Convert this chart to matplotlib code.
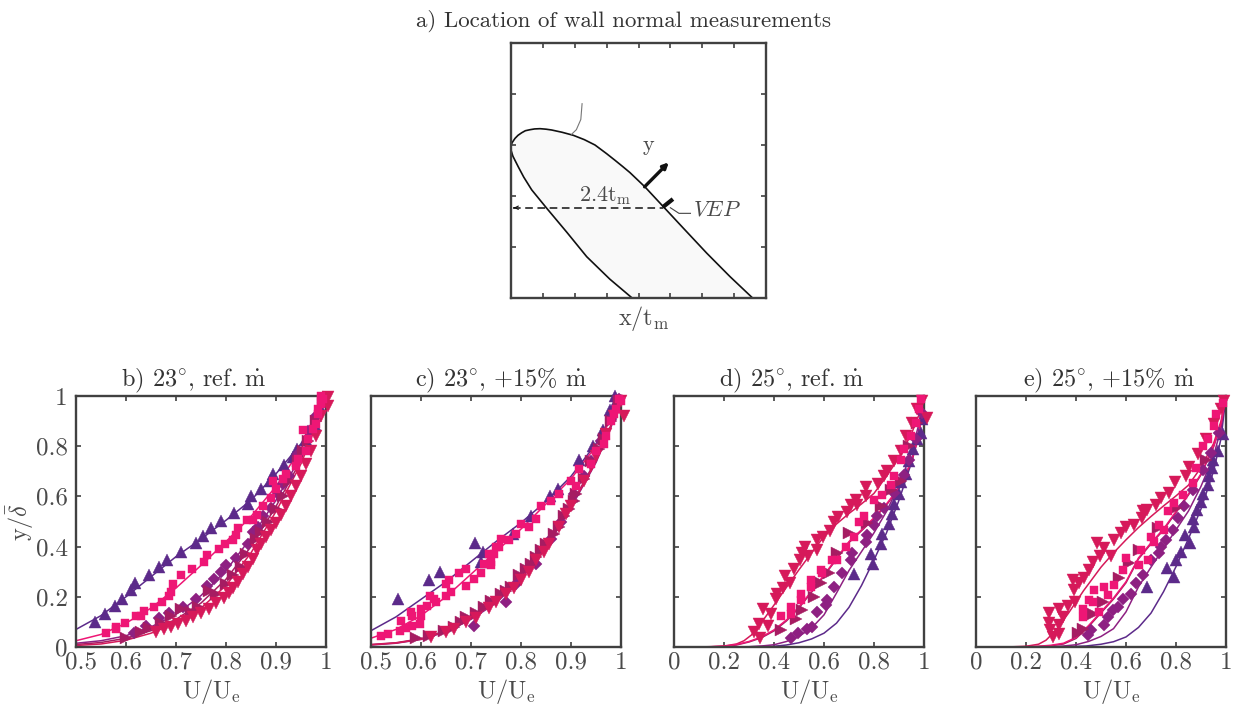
import matplotlib
matplotlib.use("Agg")
import matplotlib.pyplot as plt
from matplotlib.transforms import ScaledTranslation

plt.rcParams["font.family"] = "serif"
plt.rcParams["font.serif"] = ["cmr10", "DejaVu Serif"]
plt.rcParams["mathtext.fontset"] = "cm"
plt.rcParams["axes.unicode_minus"] = False

W, H = 1239, 706
TXT = "#4a4a4a"
AX_C = "#404040"

COLORS = {"up": "#5c2a8a", "dia": "#8e2082", "right": "#a61c62", "down": "#d6195a", "sq": "#ee1675"}
MARKERS = {"up": "^", "dia": "D", "right": ">", "down": "v", "sq": "s"}
SIZES = {"up": 8.8, "dia": 6.0, "right": 8.8, "down": 8.8, "sq": 6.4}
ORDER = ["up", "dia", "right", "down", "sq"]

# panel a: geometry (x/8 div, y/5 div)
upper_x = [0.0, 0.05, 0.126, 0.22, 0.335, 0.45, 0.596, 0.74, 0.91, 1.1, 1.277, 1.6, 1.955, 2.3, 2.635, 3.0, 3.263, 3.5, 3.73, 4.2, 4.78, 5.41, 6.14, 6.87, 7.58]
upper_y = [3.0, 3.06, 3.13, 3.19, 3.24, 3.28, 3.30, 3.315, 3.32, 3.31, 3.294, 3.25, 3.19, 3.105, 3.0, 2.83, 2.70, 2.58, 2.46, 2.18, 1.79, 1.367, 0.88, 0.42, 0.0]
lower_x = [0.0, 0.06, 0.23, 0.4, 0.65, 1.12, 1.75, 2.375, 3.1, 3.8]
lower_y = [2.9, 2.78, 2.57, 2.37, 2.12, 1.76, 1.29, 0.81, 0.37, 0.0]
lead_x = [2.23, 2.19, 2.05, 1.90]
lead_y = [3.81, 3.50, 3.30, 3.21]
vep_lead_x = [5.00, 5.27, 5.63]
vep_lead_y = [1.77, 1.66, 1.66]
dash_x = [0.05, 4.76]
dash_y = [1.77, 1.77]
y_arrow = [4.19, 2.18, 4.95, 2.66]
vep_tick_x = [4.76, 5.08]
vep_tick_y = [1.78, 1.94]

# panel b
b_lines = {
    "up": ([.5, .55, .6, .65, .7, .75, .8, .85, .9, .95, .98, 1], [.07, .125, .2, .28, .36, .43, .505, .585, .69, .81, .92, 1]),
    "sq": ([.5, .55, .6, .65, .7, .75, .8, .85, .9, .95, .98, 1], [.025, .05, .095, .155, .235, .325, .42, .52, .64, .79, .91, 1]),
    "dia": ([.5, .55, .6, .65, .7, .75, .8, .85, .9, .95, .98, 1], [.015, .025, .045, .08, .13, .205, .305, .435, .585, .76, .9, 1]),
    "right": ([.5, .55, .6, .65, .7, .75, .8, .85, .9, .95, .98, 1], [.01, .018, .035, .065, .11, .175, .27, .4, .56, .745, .89, 1]),
    "down": ([.5, .55, .6, .65, .7, .75, .8, .85, .9, .95, .98, 1], [.006, .012, .027, .055, .095, .155, .245, .375, .54, .73, .88, 1]),
}
b_u = {
    "up": [.537, .557, .578, .591, .61, .617, .645, .665, .681, .71, .741, .753, .77, .79, .816, .845, .85, .87, .888, .895, .917, .933, .943, .96, .978, .989, .995],
    "sq": [.56, .58, .58, .597, .62, .635, .63, .655, .672, .685, .69, .695, .71, .732, .755, .762, .785, .797, .815, .82, .825, .843, .855, .862, .875, .89, .9, .895, .915, .92, .94, .945, .96, .955, .975, .965, .985, .98, .99, .985, .995, .99],
    "dia": [.615, .64, .665, .685, .715, .74, .762, .775, .79, .8, .82, .845, .855, .865, .875, .89, .905, .915, .925, .945, .965, .98, .995],
    "right": [.6, .63, .645, .67, .69, .71, .73, .745, .765, .78, .8, .815, .83, .84, .86, .87, .885, .9, .915, .925, .945, .955, .965, .98, .995],
    "down": [.66, .675, .69, .705, .72, .735, .75, .765, .78, .795, .805, .815, .825, .835, .845, .855, .862, .87, .88, .89, .9, .91, .92, .93, .94, .95, .96, .97, .98, .99, 1.005, 1.005],
}
b_y = {
    "up": [.10, .133, .162, .193, .226, .255, .286, .32, .348, .38, .415, .443, .475, .503, .535, .569, .6, .63, .66, .69, .725, .758, .787, .824, .884, .957, .995],
    "sq": [.055, .08, .07, .095, .125, .145, .125, .16, .18, .205, .22, .25, .285, .31, .34, .365, .39, .41, .425, .445, .475, .505, .505, .525, .56, .595, .63, .66, .67, .69, .72, .75, .78, .865, .87, .83, .93, .89, .97, .95, .99, 1.0],
    "dia": [.055, .085, .115, .135, .16, .19, .245, .27, .30, .325, .355, .41, .46, .48, .52, .555, .61, .65, .68, .77, .86, .92, .99],
    "right": [.035, .06, .075, .095, .125, .15, .14, .16, .225, .21, .25, .285, .32, .37, .43, .46, .5, .55, .6, .66, .74, .78, .82, .9, .98],
    "down": [.06, .07, .08, .09, .105, .12, .135, .15, .175, .195, .215, .235, .26, .29, .32, .35, .385, .41, .44, .465, .495, .525, .56, .6, .64, .68, .73, .78, .84, .92, .96, .995],
}

# panel c
c_lines = {
    "up": ([.5, .55, .6, .65, .7, .75, .8, .85, .9, .95, .98, 1], [.065, .12, .19, .26, .34, .42, .495, .58, .68, .81, .91, 1]),
    "sq": ([.5, .55, .6, .65, .7, .75, .8, .85, .9, .95, .98, 1], [.035, .07, .125, .2, .29, .38, .47, .57, .67, .8, .91, 1]),
    "dia": ([.5, .55, .6, .65, .7, .75, .8, .85, .9, .95, .98, 1], [.008, .015, .03, .06, .11, .175, .27, .395, .555, .735, .875, 1]),
    "right": ([.5, .55, .6, .65, .7, .75, .8, .85, .9, .95, .98, 1], [.01, .017, .033, .065, .115, .185, .28, .405, .565, .745, .885, 1]),
    "down": ([.5, .55, .6, .65, .7, .75, .8, .85, .9, .95, .98, 1], [.009, .016, .031, .063, .113, .18, .275, .4, .56, .74, .88, 1]),
}
c_u = {
    "up": [.554, .615, .638, .708, .724, .72, .784, .82, .858, .874, .915, .944, .964, .977, .985, .987],
    "sq": [.52, .533, .557, .57, .582, .598, .56, .58, .582, .6, .6, .612, .63, .625, .618, .65, .66, .65, .655, .675, .69, .69, .705, .72, .725, .74, .74, .745, .735, .75, .755, .76, .775, .79, .8, .815, .83, .84, .86, .875, .9, .91, .915, .94, .95, .965, .97, .98, .985, .99, .995, 1.0],
    "dia": [.705, .77, .79, .83, .86, .88, .905, .925, .94, .96, .98, .995],
    "right": [.59, .615, .645, .665, .68, .69, .71, .725, .74, .76, .77, .78, .795, .81, .82, .83, .84, .85, .865, .875, .885, .895, .905, .91, .925, .94, .955, .965, .98, .995],
    "down": [.62, .65, .665, .69, .71, .735, .75, .77, .785, .8, .815, .83, .845, .855, .875, .89, .9, .925, .94, .95, .97, .985, 1.0, 1.005],
}
c_y = {
    "up": [.19, .266, .30, .415, .38, .34, .45, .52, .6, .63, .745, .8, .865, .944, .96, 1.0],
    "sq": [.045, .05, .065, .075, .085, .09, .105, .14, .125, .125, .15, .165, .18, .19, .205, .205, .22, .25, .265, .295, .31, .245, .27, .295, .33, .325, .34, .37, .37, .4, .4, .43, .425, .45, .49, .48, .51, .56, .58, .61, .66, .64, .71, .73, .78, .81, .84, .9, .93, .95, .99, .98],
    "dia": [.085, .18, .25, .33, .43, .50, .61, .68, .74, .82, .91, .99],
    "right": [.035, .045, .065, .08, .10, .12, .135, .16, .185, .21, .225, .24, .285, .31, .33, .36, .385, .41, .45, .48, .52, .55, .58, .61, .67, .74, .79, .83, .9, .98],
    "down": [.04, .06, .07, .10, .115, .155, .18, .21, .235, .265, .30, .345, .38, .41, .48, .53, .56, .66, .72, .76, .85, .92, .98, .92],
}

# panel d
d_lines = {
    "up": ([.1, .3, .4, .45, .5, .55, .6, .65, .7, .75, .8, .85, .9, .95, .98, 1], [0, .001, .003, .008, .017, .032, .055, .095, .158, .245, .347, .455, .585, .735, .87, 1]),
    "dia": ([.1, .3, .35, .4, .45, .5, .55, .6, .65, .7, .75, .8, .85, .9, .95, .98, 1], [0, .001, .004, .009, .022, .043, .075, .128, .215, .305, .38, .455, .54, .645, .775, .89, 1]),
    "right": ([.1, .2, .25, .3, .35, .4, .45, .5, .55, .6, .65, .7, .75, .8, .85, .9, .95, .98, 1], [0, .002, .008, .02, .037, .064, .104, .156, .218, .283, .35, .416, .463, .511, .566, .631, .736, .842, 1]),
    "sq": ([.1, .2, .25, .3, .35, .4, .45, .5, .55, .6, .65, .7, .75, .8, .85, .9, .95, .98, 1], [0, .003, .01, .022, .04, .068, .108, .16, .222, .287, .353, .42, .467, .515, .57, .635, .74, .845, 1]),
    "down": ([.1, .15, .2, .25, .28, .31, .35, .4, .45, .5, .55, .6, .65, .7, .75, .8, .85, .9, .95, .98, 1], [0, .001, .004, .012, .025, .048, .098, .167, .238, .308, .375, .44, .49, .532, .57, .612, .68, .755, .85, .925, 1]),
}
d_u = {
    "up": [.72, .797, .789, .829, .833, .86, .873, .88, .9, .909, .927, .94, .957, .973, .987, .993],
    "dia": [.467, .496, .533, .553, .573, .607, .613, .64, .673, .707, .713, .767, .773, .8, .813, .84, .88, .92, .94, .967, .993],
    "right": [.429, .487, .513, .56, .587, .62, .653, .7, .773, .827, .867, .907, .94, .973],
    "down": [.32, .344, .376, .34, .357, .387, .407, .413, .437, .444, .464, .48, .504, .513, .524, .536, .573, .571, .596, .624, .64, .656, .691, .707, .727, .733, .767, .767, .816, .84, .853, .88, .907, .927, .953, .973, .993, 1.013],
    "sq": [.429, .469, .467, .507, .509, .547, .549, .587, .593, .633, .653, .687, .72, .74, .76, .8, .833, .867, .88, .907, .92, .947, .967, .98, .989],
}
d_y = {
    "up": [.291, .331, .371, .409, .451, .489, .531, .571, .609, .656, .691, .74, .787, .827, .853, .907],
    "dia": [.037, .056, .073, .08, .14, .167, .187, .24, .293, .347, .373, .42, .447, .487, .52, .553, .613, .687, .747, .827, .933],
    "right": [.067, .113, .147, .2, .253, .293, .373, .453, .493, .56, .627, .66, .8, .893],
    "down": [.06, .037, .083, .093, .151, .133, .193, .213, .237, .283, .256, .309, .347, .376, .397, .363, .427, .387, .44, .464, .5, .517, .536, .564, .587, .567, .6, .637, .651, .68, .7, .74, .78, .84, .893, .947, .98, .913],
    "sq": [.123, .16, .133, .213, .187, .267, .24, .307, .293, .347, .347, .4, .44, .5, .52, .587, .607, .647, .68, .747, .787, .84, .893, .947, .987],
}

# panel e
e_lines = {
    "up": ([.1, .35, .44, .5, .55, .6, .65, .7, .75, .8, .85, .9, .95, .98, 1], [0, .001, .004, .011, .021, .04, .078, .135, .22, .32, .432, .55, .7, .83, 1]),
    "dia": ([.1, .3, .35, .4, .45, .5, .55, .6, .65, .7, .75, .8, .85, .9, .95, .98, 1], [0, .001, .004, .009, .022, .042, .073, .14, .24, .318, .393, .467, .542, .64, .76, .87, 1]),
    "right": ([.1, .2, .25, .3, .35, .4, .45, .5, .55, .6, .65, .7, .75, .8, .85, .9, .95, .98, 1], [0, .001, .002, .005, .012, .034, .081, .136, .191, .256, .351, .411, .466, .536, .606, .686, .796, .887, 1]),
    "sq": ([.1, .2, .25, .3, .35, .4, .45, .5, .55, .6, .65, .7, .75, .8, .85, .9, .95, .98, 1], [0, .001, .003, .007, .015, .038, .085, .14, .195, .26, .355, .415, .47, .54, .61, .69, .8, .89, 1]),
    "down": ([.1, .15, .2, .25, .28, .32, .37, .43, .5, .55, .6, .65, .7, .75, .8, .85, .9, .95, .98, 1], [0, .001, .003, .011, .027, .067, .135, .224, .318, .375, .427, .476, .52, .562, .602, .645, .715, .81, .9, 1]),
}
e_u = {
    "up": [.683, .793, .763, .8, .82, .856, .837, .873, .867, .883, .9, .909, .927, .931, .944, .949, .967, .989],
    "dia": [.447, .46, .513, .527, .547, .567, .587, .62, .64, .667, .7, .731, .74, .76, .787, .807, .833, .867, .907, .94, .973],
    "right": [.407, .427, .467, .507, .573, .613, .653, .727, .8, .92],
    "down": [.293, .331, .367, .349, .291, .331, .296, .309, .331, .397, .387, .393, .413, .433, .453, .469, .496, .483, .513, .54, .553, .58, .6, .633, .663, .667, .683, .72, .74, .771, .797, .84, .853, .887, .92, .953, .98, .993],
    "sq": [.473, .451, .427, .429, .467, .491, .513, .527, .553, .587, .6, .653, .66, .687, .7, .713, .733, .753, .767, .793, .827, .867, .88, .907, .927, .953, .96, .987],
}
e_y = {
    "up": [.24, .277, .313, .347, .38, .413, .447, .48, .509, .544, .576, .611, .647, .68, .713, .744, .78, .847],
    "dia": [.047, .067, .087, .12, .147, .16, .193, .213, .253, .287, .347, .373, .4, .427, .467, .513, .56, .627, .707, .773, .853],
    "right": [.056, .073, .133, .18, .273, .333, .387, .473, .553, .747],
    "down": [.136, .153, .163, .12, .096, .087, .069, .04, .051, .18, .267, .227, .253, .273, .307, .34, .363, .413, .393, .363, .427, .456, .477, .487, .513, .54, .547, .567, .593, .613, .656, .683, .717, .767, .827, .887, .947, .98],
    "sq": [.227, .187, .153, .12, .18, .14, .24, .207, .247, .307, .353, .327, .387, .347, .44, .42, .487, .467, .54, .573, .607, .653, .713, .8, .827, .88, .927, .973],
}

panels = [
    ("b) 23$^{\\circ}$, ref. $\\dot{\\mathrm{m}}$", 76, 0.47, b_lines, b_u, b_y, [.5, .6, .7, .8, .9, 1], ["0.5", "0.6", "0.7", "0.8", "0.9", "1"]),
    ("c) 23$^{\\circ}$, +15$\\%$ $\\dot{\\mathrm{m}}$", 371, 0.52, c_lines, c_u, c_y, [.5, .6, .7, .8, .9, 1], ["0.5", "0.6", "0.7", "0.8", "0.9", "1"]),
    ("d) 25$^{\\circ}$, ref. $\\dot{\\mathrm{m}}$", 674, 0.47, d_lines, d_u, d_y, [0, .2, .4, .6, .8, 1], ["0", "0.2", "0.4", "0.6", "0.8", "1"]),
    ("e) 25$^{\\circ}$, +15$\\%$ $\\dot{\\mathrm{m}}$", 976, 0.53, e_lines, e_u, e_y, [0, .2, .4, .6, .8, 1], ["0", "0.2", "0.4", "0.6", "0.8", "1"]),
]
y_ticks = [0, .2, .4, .6, .8, 1]
y_labels = ["0", "0.2", "0.4", "0.6", "0.8", "1"]


def add_axes(fig, left, top, w, h):
    return fig.add_axes([left / W, 1 - (top + h) / H, w / W, h / H])


def style_axes(ax):
    ax.tick_params(which="both", direction="in", top=True, right=True, length=3.5, width=1.2,
                   color=AX_C, labelcolor=TXT, labelsize=18, pad=3.5)
    for s in ax.spines.values():
        s.set_linewidth(1.7)
        s.set_edgecolor(AX_C)


def plot_panel(fig, ax, title, title_x, lines, us, ys, ticks, labels):
    for key in ORDER:
        ax.plot(lines[key][0], lines[key][1], color=COLORS[key], lw=1.1, zorder=2)
    for key in ORDER:
        ax.plot(us[key], ys[key], ls="none", marker=MARKERS[key], ms=SIZES[key], mfc=COLORS[key],
                mec=COLORS[key], mew=0.3, clip_on=False, zorder=3)
    ax.set_xlim(ticks[0], ticks[-1])
    ax.set_ylim(0, 1)
    ax.set_xticks(ticks)
    ax.set_xticklabels(labels)
    ax.set_yticks(y_ticks)
    ax.set_yticklabels([])
    style_axes(ax)
    # 0.5 sits a bit right of its tick in the original
    if ticks[0] != 0:
        lab = ax.get_xticklabels()[0]
        lab.set_transform(lab.get_transform() + ScaledTranslation(5 / 100, 0, fig.dpi_scale_trans))
    ax.set_xlabel("U/U$_{\\mathrm{e}}$", fontsize=17.5, color=TXT, labelpad=2, x=0.54)
    ax.set_title(title, fontsize=17.5, color="#333333", pad=7, x=title_x)


def plot_location(ax):
    ax.fill(upper_x + lower_x[::-1], upper_y + lower_y[::-1], color="#f9f9f9", lw=0)
    ax.plot(upper_x, upper_y, color="#111111", lw=1.2)
    ax.plot(lower_x, lower_y, color="#111111", lw=1.2)
    ax.plot(lead_x, lead_y, color="#777777", lw=0.8)
    ax.plot(vep_lead_x, vep_lead_y, color="#444444", lw=0.8)
    ax.plot(dash_x, dash_y, color="#111111", lw=1.1, ls=(0, (5, 3)))
    ax.annotate("", xy=(0.0, 1.77), xytext=(0.2, 1.77),
                arrowprops=dict(arrowstyle="->", color="#111111", lw=0.8, mutation_scale=6))
    ax.annotate("", xy=(y_arrow[2], y_arrow[3]), xytext=(y_arrow[0], y_arrow[1]),
                arrowprops=dict(arrowstyle="-|>", color="#111111", lw=2.4, mutation_scale=8, shrinkA=0, shrinkB=0))
    ax.plot(vep_tick_x, vep_tick_y, color="#111111", lw=3, solid_capstyle="butt")
    ax.text(2.12, 2.0, "2.4t$_{\\mathrm{m}}$", fontsize=16, color=TXT, va="center")
    ax.text(4.3, 3.0, "y", fontsize=16, color=TXT, ha="center", va="center")
    ax.text(5.7, 1.74, "$VEP$", fontsize=16, color=TXT, va="center")
    ax.set_xlim(0, 8)
    ax.set_ylim(0, 5)
    ax.set_xticks(range(0, 9))
    ax.set_yticks(range(0, 6))
    ax.set_xticklabels([])
    ax.set_yticklabels([])
    style_axes(ax)
    ax.set_xlabel("x/t$_{\\mathrm{m}}$", fontsize=17.5, color=TXT, labelpad=1, x=0.52)
    ax.set_title("a) Location of wall normal measurements", fontsize=16.5, color="#333333", pad=12, x=0.44)


def main():
    fig = plt.figure(figsize=(W / 100, H / 100), dpi=100)
    plot_location(add_axes(fig, 511, 43, 255, 255))
    for i, (title, left, title_x, lines, us, ys, ticks, labels) in enumerate(panels):
        ax = add_axes(fig, left, 396, 250, 251)
        plot_panel(fig, ax, title, title_x, lines, us, ys, ticks, labels)
        if i == 0:
            ax.set_yticklabels(y_labels)
            ax.tick_params(axis="y", pad=6)
            ax.set_ylabel("y/$\\bar{\\delta}$", fontsize=17.5, color=TXT, labelpad=0)
    fig.savefig("out.png", dpi=100)


if __name__ == "__main__":
    main()
